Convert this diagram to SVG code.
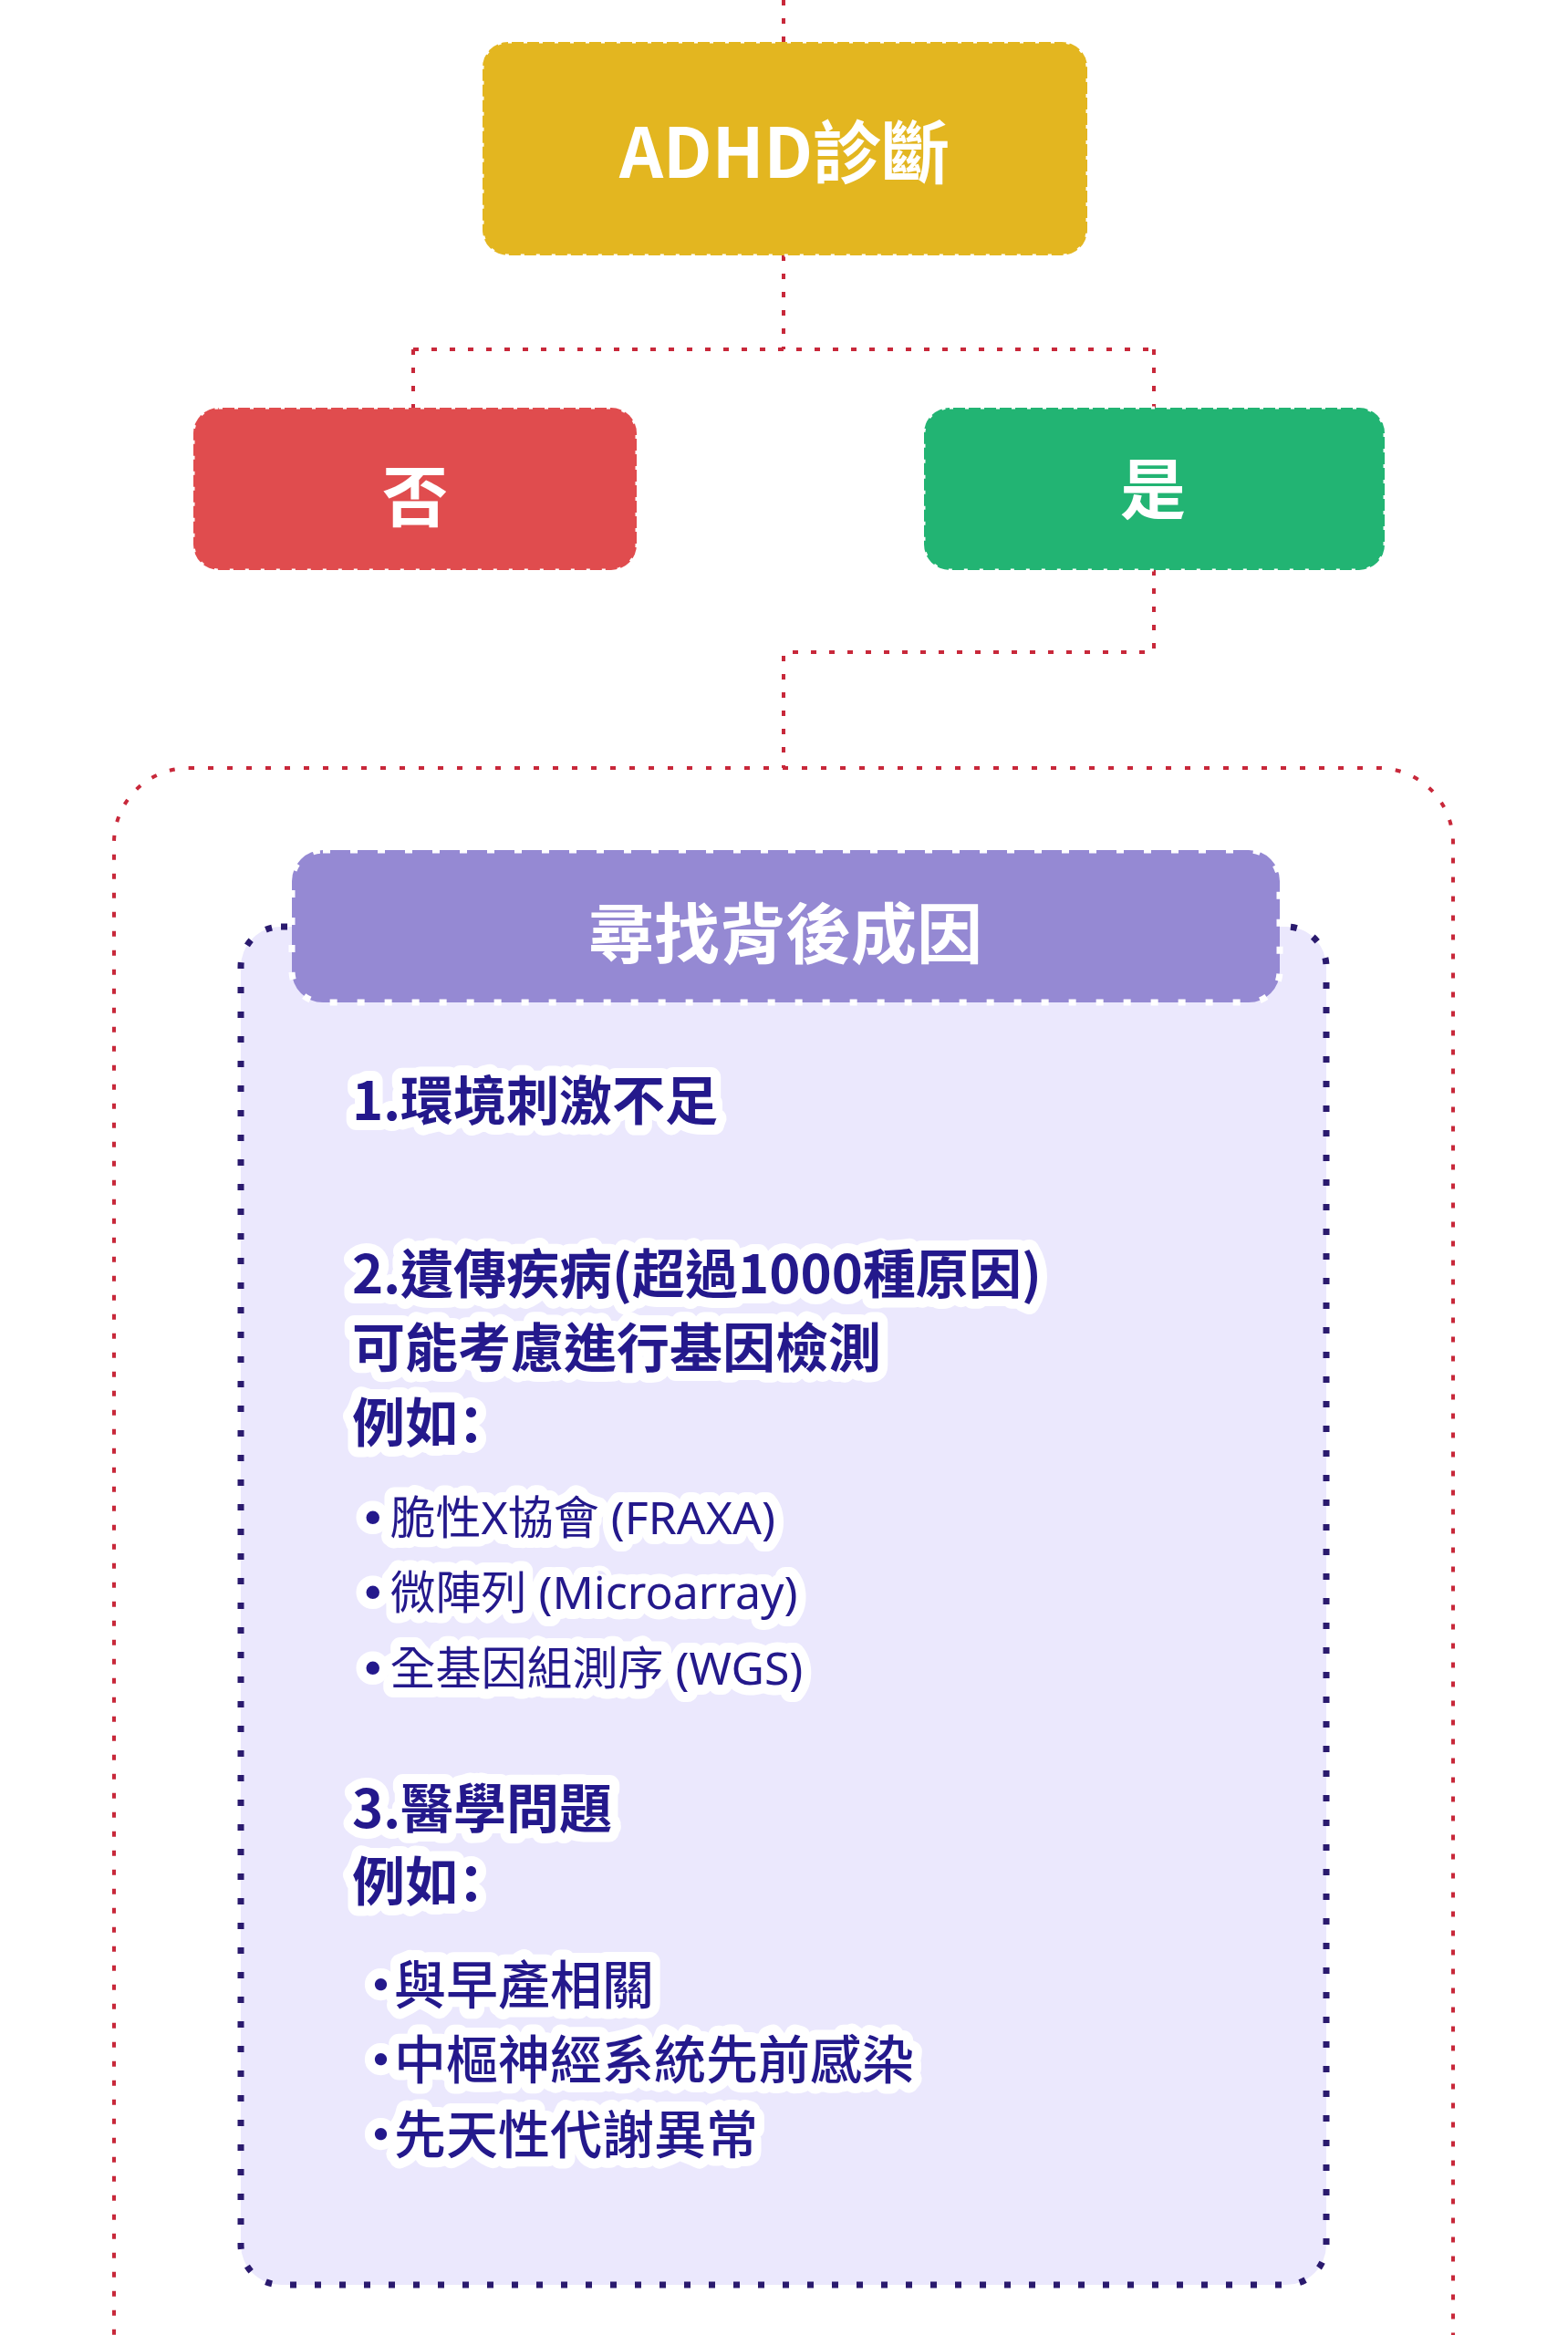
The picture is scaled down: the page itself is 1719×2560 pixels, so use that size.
<svg xmlns="http://www.w3.org/2000/svg" width="1719" height="2560" viewBox="0 0 1719 2560">
<style>
.conn{fill:none;stroke:#c8283a;stroke-width:4;stroke-dasharray:6 14}
.box{stroke:#ffffff;stroke-width:3;stroke-dasharray:4 13}
.boxt{font-family:"Noto Sans CJK TC","Noto Sans",sans-serif;font-weight:700;fill:#ffffff;text-anchor:middle}
.t{font-family:"Noto Sans CJK TC","Noto Sans",sans-serif;fill:#24198c;stroke:#ffffff;stroke-width:22;stroke-linejoin:round;paint-order:stroke fill}
.h{font-size:58px;font-weight:700}
.sc{font-family:"Noto Sans CJK SC","Noto Sans CJK TC",sans-serif}
.r{font-size:50px;font-weight:400;font-family:"Noto Sans","Noto Sans CJK TC",sans-serif}
.m{font-size:57px;font-weight:500}
.bul{font-family:"DejaVu Sans",sans-serif}
</style>
<rect x="0" y="0" width="1719" height="2560" fill="#ffffff"/>
<g id="connectors">
<path class="conn" d="M859 0 V46"/>
<path class="conn" d="M859 280 V383 M453 383 H1265 M453 383 V448 M1265 383 V448"/>
<path class="conn" d="M1265 625 V715 H859 V842"/>
</g>
<g id="node-container">
<rect x="125" y="842" width="1468" height="1900" rx="82" ry="82" fill="none" stroke="#c8283a" stroke-width="4" stroke-dasharray="6 15"/>
</g>
<g id="node-adhd">
<rect class="box" x="529" y="46" width="663" height="234" rx="28" fill="#e3b620"/>
<text class="boxt" x="860" y="195" font-size="75">ADHD診斷</text>
</g>
<g id="node-no">
<rect class="box" x="212" y="447" width="486" height="178" rx="28" fill="#e04c4e"/>
<text class="boxt" x="455" y="571" font-size="72">否</text>
</g>
<g id="node-yes">
<rect class="box" x="1013" y="447" width="505" height="178" rx="28" fill="#22b473"/>
<text class="boxt" x="1264" y="563" font-size="72">是</text>
</g>
<g id="node-panel">
<rect x="264" y="1016" width="1190" height="1489" rx="44" fill="#ebe8fd" stroke="#2a1a6e" stroke-width="7" stroke-dasharray="7 20"/>
<text class="t h" x="386" y="1228">1.環境刺激不足</text>
<text class="t h" x="386" y="1418">2.遺傳疾病(超過1000種原因)</text>
<text class="t h" x="386" y="1499">可能考慮進行基因檢測</text>
<text class="t h sc" x="386" y="1581">例如：</text>
<text class="t r" x="394" y="1682" dx="0 4"><tspan class="bul">•</tspan>脆性X協會 (FRAXA)</text>
<text class="t r" x="394" y="1764" dx="0 4"><tspan class="bul">•</tspan>微陣列 (Microarray)</text>
<text class="t r" x="394" y="1847" dx="0 4"><tspan class="bul">•</tspan>全基因組測序 (WGS)</text>
<text class="t h" x="386" y="2004">3.醫學問題</text>
<text class="t h sc" x="386" y="2084">例如：</text>
<text class="t m" x="389" y="2197" dx="0 -14">·與早產相關</text>
<text class="t m" x="389" y="2279" dx="0 -14">·中樞神經系統先前感染</text>
<text class="t m" x="389" y="2361" dx="0 -14">·先天性代謝異常</text>
</g>
<g id="node-header">
<rect x="320" y="932" width="1083" height="167" rx="34" fill="#9589d3" stroke="#ffffff" stroke-width="7" stroke-dasharray="8 22"/>
<text class="boxt" x="861" y="1050" font-size="72">尋找背後成因</text>
</g>
</svg>
